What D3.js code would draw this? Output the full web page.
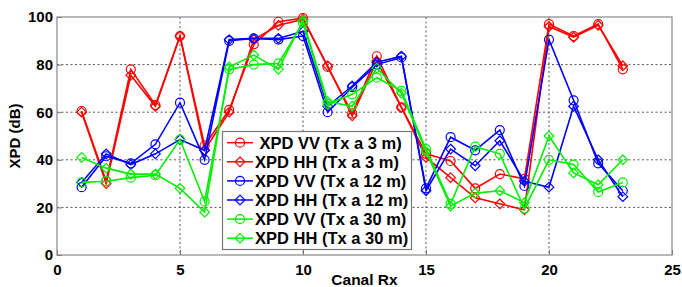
<!DOCTYPE html>
<html>
<head>
<meta charset="utf-8">
<script src="https://cdn.jsdelivr.net/npm/d3@7"></script>
<style>
  body { margin: 0; background: #fff; }
  text { font-family: "Liberation Sans", Arial, sans-serif; font-weight: bold; fill: #000; }
</style>
</head>
<body>
<script>
var w = 682;
var h = 287;

// data
var canal = d3.range(1, 24);
var xTicks = [0, 5, 10, 15, 20, 25];
var yTicks = [0, 20, 40, 60, 80, 100];

var redVV   = [60.5, 31, 78, 63, 92, 46, 61, 88.5, 98, 99.5, 79, 59.5, 83.5, 62, 42.5, 39.5, 28, 34, 32, 97, 92, 97, 78];
var redHH   = [60, 30, 75.5, 62.5, 92, 44, 60, 90.5, 96.5, 99, 79.5, 58.5, 81.5, 62, 41, 32.5, 24, 21.5, 19, 96, 91.5, 96.5, 79.5];
var blueVV  = [28.5, 41.5, 38.5, 46.5, 64, 40, 90, 91, 90.5, 92, 60, 70.5, 80, 83, 28, 49.5, 44, 52.5, 29, 90.5, 65, 38.5, 27];
var blueHH  = [30.5, 42.5, 38, 42.5, 48.5, 44, 90.5, 91, 91, 94, 62.5, 71, 81, 83.5, 27, 44.5, 37.5, 48, 31, 28.5, 62.5, 40, 24.5];
var greenVV = [30.5, 31, 32.5, 33.5, 48.5, 22.5, 78, 80, 80.5, 97.5, 63.5, 67.5, 74.5, 69, 44.5, 21.5, 45.5, 42.5, 19.5, 40, 38, 26.5, 30.5];
var greenHH = [41, 36.5, 34, 34, 28, 18, 79, 84, 78, 98.5, 64.5, 62.5, 78.5, 68, 43.5, 20.5, 26, 27, 22, 50, 34.5, 29.5, 40];

var seriesNames = [" XPD VV (Tx a 3 m)", "XPD HH (Tx a 3 m)", "XPD VV (Tx a 12 m)",
                   "XPD HH (Tx a 12 m)", "XPD VV (Tx a 30 m)", "XPD HH (Tx a 30 m)"];
var seriesValues = [redVV, redHH, blueVV, blueHH, greenVV, greenHH];
var colors = ["#ff0000", "#ff0000", "#0000ff", "#0000ff", "#00f000", "#00f000"];
var markers = ["circle", "diamond", "circle", "diamond", "circle", "diamond"];

var padL = 57, padR = 672, padT = 17, padB = 255;

var xScale = d3.scaleLinear().domain([0, 25]).range([padL, padR]);
var yScale = d3.scaleLinear().domain([0, 100]).range([padB, padT]);

var svg = d3.select("body").append("svg")
  .attr("width", w)
  .attr("height", h);

// grid
svg.append("g").selectAll("line")
  .data(xTicks.slice(1, -1))
  .enter().append("line")
  .attr("x1", function(d) { return xScale(d); })
  .attr("x2", function(d) { return xScale(d); })
  .attr("y1", padT).attr("y2", padB)
  .attr("stroke", "#555").attr("stroke-dasharray", "2,2.5");

svg.append("g").selectAll("line")
  .data(yTicks.slice(1, -1))
  .enter().append("line")
  .attr("y1", function(d) { return yScale(d); })
  .attr("y2", function(d) { return yScale(d); })
  .attr("x1", padL).attr("x2", padR)
  .attr("stroke", "#555").attr("stroke-dasharray", "2,2.5");

// axes
var xAxis = d3.axisBottom(xScale).tickValues(xTicks).tickSize(-5).tickPadding(9);
var yAxis = d3.axisLeft(yScale).tickValues(yTicks).tickSize(-5).tickPadding(4);

var gx = svg.append("g")
  .attr("transform", "translate(0," + padB + ")")
  .call(xAxis);
var gy = svg.append("g")
  .attr("transform", "translate(" + padL + ",0)")
  .call(yAxis);

[gx, gy].forEach(function(g) {
  g.select(".domain").remove();
  g.selectAll("line").attr("stroke", "#777");
  g.selectAll("text").style("font-size", "15px").attr("fill", "#000");
});
gy.selectAll("text").attr("x", -4);

svg.append("rect")
  .attr("x", padL).attr("y", padT)
  .attr("width", padR - padL).attr("height", padB - padT)
  .attr("fill", "none").attr("stroke", "#888").attr("stroke-width", 1.2);

// series
var line = d3.line()
  .x(function(d, i) { return xScale(canal[i]); })
  .y(function(d) { return yScale(d); });

function drawMarker(g, type, x, y, color) {
  if (type === "circle") {
    g.append("circle").attr("cx", x).attr("cy", y).attr("r", 4.5)
      .attr("fill", "none").attr("stroke", color).attr("stroke-width", 1.2);
  } else {
    var s = 4.8;
    g.append("path")
      .attr("d", "M" + x + "," + (y - s) + "L" + (x + s) + "," + y + "L" + x + "," + (y + s) + "L" + (x - s) + "," + y + "Z")
      .attr("fill", "none").attr("stroke", color).attr("stroke-width", 1.2);
  }
}

seriesValues.forEach(function(vals, k) {
  var g = svg.append("g");
  g.append("path")
    .datum(vals)
    .attr("d", line)
    .attr("fill", "none")
    .attr("stroke", colors[k])
    .attr("stroke-width", 1.6);
  vals.forEach(function(v, i) {
    drawMarker(g, markers[k], xScale(canal[i]), yScale(v), colors[k]);
  });
});

// legend
var lg = svg.append("g");
lg.append("rect")
  .attr("x", 222.5).attr("y", 131.5)
  .attr("width", 189).attr("height", 118)
  .attr("fill", "#fff").attr("stroke", "#777").attr("stroke-width", 1.2);

seriesNames.forEach(function(name, k) {
  var y = 142.7 + k * 19.1;
  lg.append("line")
    .attr("x1", 227).attr("x2", 253)
    .attr("y1", y).attr("y2", y)
    .attr("stroke", colors[k]).attr("stroke-width", 1.5);
  drawMarker(lg, markers[k], 240, y, colors[k]);
  lg.append("text")
    .attr("x", 255).attr("y", y + 6)
    .attr("xml:space", "preserve")
    .style("white-space", "pre")
    .style("font-size", "16.5px")
    .text(name);
});

// axis labels
svg.append("text")
  .attr("transform", "translate(20," + ((padT + padB) / 2) + ") rotate(-90)")
  .attr("text-anchor", "middle")
  .style("font-size", "15px")
  .text("XPD (dB)");

svg.append("text")
  .attr("x", (padL + padR) / 2)
  .attr("y", 285)
  .attr("text-anchor", "middle")
  .style("font-size", "15.5px")
  .text("Canal Rx");
</script>
</body>
</html>
